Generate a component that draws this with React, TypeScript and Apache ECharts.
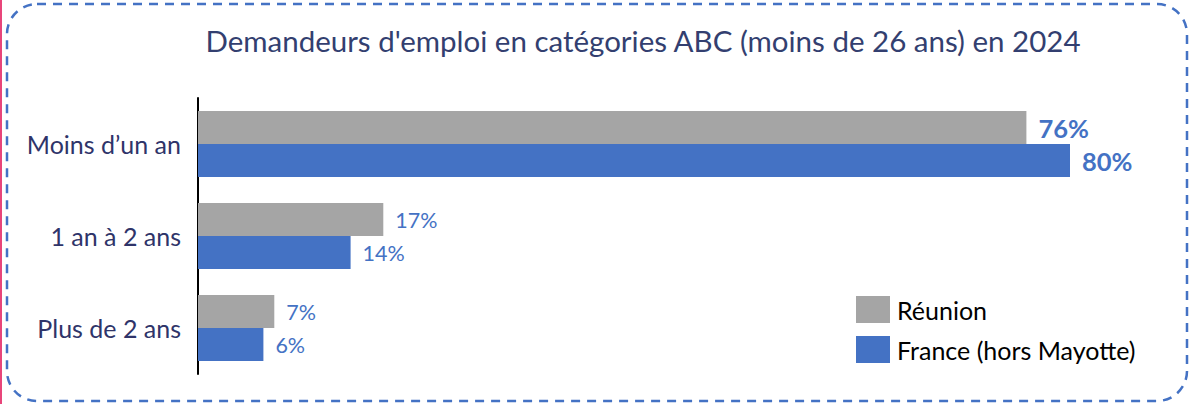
import React, { useEffect, useRef } from "react";
import * as echarts from "echarts";

const TITLE = "Demandeurs d'emploi en catégories ABC (moins de 26 ans) en 2024";
const categories = ["Moins d’un an", "1 an à 2 ans", "Plus de 2 ans"];
const seriesNames = ["Réunion", "France (hors Mayotte)"];
const reunionValues = [76, 17, 7];
const franceValues = [80, 14, 6];

const GREY = "#A5A5A5";
const BLUE = "#4472C4";
const NAVY = "#2F3469";
const FONT = "Lato";

export default function App() {
  const ref = useRef<HTMLDivElement>(null);
  useEffect(() => {
    if (!ref.current) return;
    const chart = echarts.init(ref.current, undefined, { renderer: "svg" });
    const label = {
      show: true,
      position: "right" as const,
      distance: 12,
      color: BLUE,
      fontFamily: FONT,
      fontSize: 21.5,
      formatter: (p: any) =>
        p.dataIndex === 0 ? `{b|${p.value}%}` : `${p.value}%`,
      rich: { b: { fontSize: 25.5, fontWeight: "bold", color: BLUE, fontFamily: FONT } },
    };
    chart.setOption({
      animation: false,
      backgroundColor: "#ffffff",
      title: {
        text: TITLE,
        left: 643,
        textAlign: "center",
        top: 25,
        padding: 0,
        textStyle: { color: "#333F70", fontFamily: FONT, fontSize: 29.5, fontWeight: "normal" },
      },
      legend: {
        orient: "vertical",
        left: 856,
        top: 296,
        padding: 0,
        itemWidth: 34,
        itemHeight: 27,
        itemGap: 13,
        icon: "rect",
        data: seriesNames,
        textStyle: { color: "#000000", fontFamily: FONT, fontSize: 25, padding: [0, 0, 0, 2] },
      },
      grid: { left: 198, top: 98, height: 276, width: 872, containLabel: false },
      xAxis: {
        type: "value",
        min: 0,
        max: 80,
        show: false,
      },
      yAxis: {
        type: "category",
        data: categories,
        inverse: true,
        axisLine: { show: true, lineStyle: { color: "#000000", width: 2 } },
        axisTick: { show: false },
        axisLabel: { color: NAVY, fontFamily: FONT, fontSize: 25, margin: 17 },
      },
      graphic: [
        {
          type: "rect",
          shape: { x: 0, y: 0, width: 2, height: 404 },
          style: { fill: "#E8457A" },
          silent: true,
        },
        {
          type: "rect",
          shape: { x: 7, y: 4, width: 1180, height: 397, r: 30 },
          style: { fill: "none", stroke: BLUE, lineWidth: 2.5, lineDash: [9, 7] },
          silent: true,
        },
      ],
      series: [
        {
          name: seriesNames[0],
          type: "bar",
          data: reunionValues,
          barWidth: 33,
          barGap: "0%",
          itemStyle: { color: GREY },
          label,
        },
        {
          name: seriesNames[1],
          type: "bar",
          data: franceValues,
          barWidth: 33,
          barGap: "0%",
          itemStyle: { color: BLUE },
          label,
        },
      ],
    });
    return () => chart.dispose();
  }, []);
  return (
    <div
      ref={ref}
      style={{ position: "fixed", left: 0, top: 0, width: 1192, height: 404 }}
    />
  );
}
